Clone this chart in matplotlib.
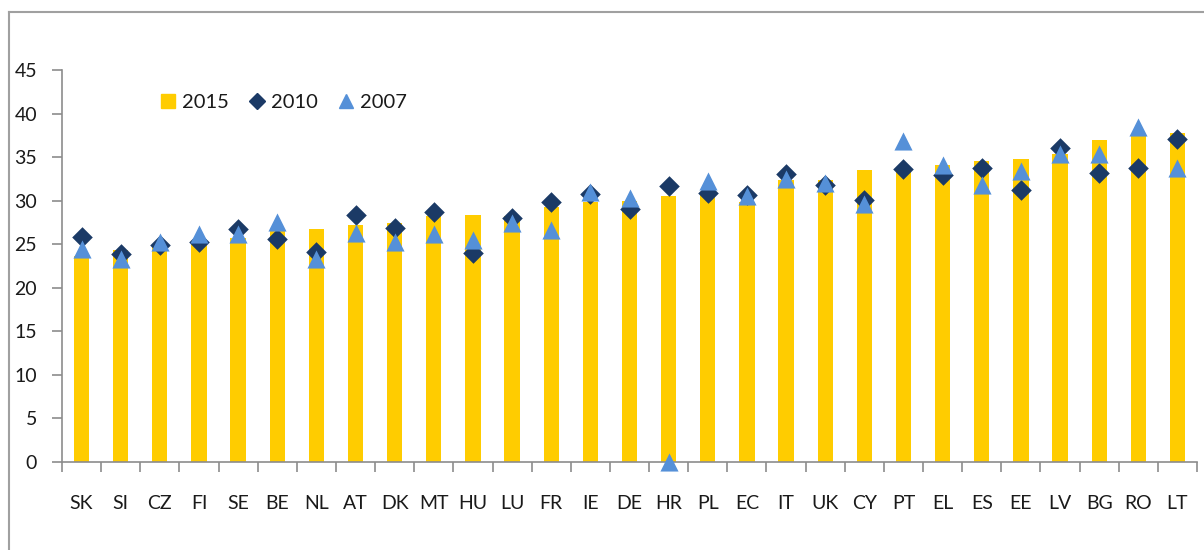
import matplotlib
matplotlib.use("Agg")
import matplotlib.pyplot as plt
from matplotlib.lines import Line2D
import numpy as np

plt.rcParams['font.family'] = ['Lato', 'DejaVu Sans']

countries = ["SK", "SI", "CZ", "FI", "SE", "BE", "NL", "AT", "DK", "MT", "HU", "LU", "FR", "IE",
             "DE", "HR", "PL", "EC", "IT", "UK", "CY", "PT", "EL", "ES", "EE", "LV", "BG", "RO", "LT"]
v2015 = [23.6, 24.3, 24.9, 25.3, 25.7, 26.6, 26.7, 27.2, 27.4, 28.2, 28.4, 28.2, 29.3, 29.9,
         30.0, 30.5, 30.8, 29.9, 32.4, 32.4, 33.5, 33.7, 34.1, 34.6, 34.8, 35.4, 37.0, 37.4, 37.8]
v2010 = [25.8, 23.9, 24.9, 25.3, 26.7, 25.6, 24.1, 28.4, 26.9, 28.7, 24.0, 28.0, 29.8, 30.8,
         29.1, 31.7, 30.9, 30.6, 33.1, 31.8, 30.1, 33.6, 32.9, 33.7, 31.2, 36.0, 33.2, 33.7, 37.1]
v2007 = [24.4, 23.3, 25.3, 26.2, 26.2, 27.5, 23.3, 26.3, 25.3, 26.2, 25.5, 27.4, 26.6, 31.0,
         30.3, 0.0, 32.3, 30.5, 32.5, 32.0, 29.6, 36.9, 34.1, 31.8, 33.4, 35.4, 35.3, 38.4, 33.8]
yticks = [0, 5, 10, 15, 20, 25, 30, 35, 40, 45]

c_bar = "#FFCC00"
c_dia = "#1B3A66"
c_tri = "#5590D8"
grey = "#8C8C8C"

fig = plt.figure(figsize=(12.04, 5.5), dpi=100)
ax = fig.add_axes([62/1204, 88/550, 1135/1204, 392/550])

x = np.arange(len(countries))
ax.bar(x, v2015, width=0.39, color=c_bar, zorder=2)
ax.scatter(x, v2010, marker="D", s=110, color=c_dia, zorder=3, clip_on=False, linewidths=0)
ax.scatter(x, v2007, marker="^", s=170, color=c_tri, zorder=4, clip_on=False, linewidths=0)

ax.set_xlim(-0.5, len(countries) - 0.5)
ax.set_ylim(0, 45)
ax.set_yticks(yticks)
ax.set_yticklabels([str(t) for t in yticks])
ax.set_xticks(x)
ax.set_xticklabels(countries)
ax.set_xticks(np.arange(-0.5, len(countries)), minor=True)
ax.tick_params(axis="x", which="major", length=0, pad=24, labelsize=14, colors="#1a1a1a")
ax.tick_params(axis="x", which="minor", length=7, width=1.2, color=grey, direction="out")
ax.tick_params(axis="y", length=7, width=1.2, color=grey, pad=11, labelsize=14, labelcolor="#1a1a1a")

for s in ["top", "right"]:
    ax.spines[s].set_visible(False)
for s in ["left", "bottom"]:
    ax.spines[s].set_color(grey)
    ax.spines[s].set_linewidth(1.2)

handles = [
    Line2D([], [], marker="s", linestyle="none", color=c_bar, markersize=10),
    Line2D([], [], marker="D", linestyle="none", color=c_dia, markersize=8),
    Line2D([], [], marker="^", linestyle="none", color=c_tri, markersize=10),
]
leg = ax.legend(handles, ["2015", "2010", "2007"], loc="center left", bbox_to_anchor=(0.07, 0.918),
                ncol=3, frameon=False, fontsize=14.5, handlelength=0.8, handletextpad=0.3,
                columnspacing=1.0)
for t in leg.get_texts():
    t.set_color("#1a1a1a")

# outer border
fig.add_artist(Line2D([9/1204, 9/1204], [0, 1 - 12/550], transform=fig.transFigure, color="#A0A0A0", lw=1.5))
fig.add_artist(Line2D([9/1204, 1], [1 - 12/550, 1 - 12/550], transform=fig.transFigure, color="#A0A0A0", lw=1.5))

fig.savefig("out.png", dpi=100)
